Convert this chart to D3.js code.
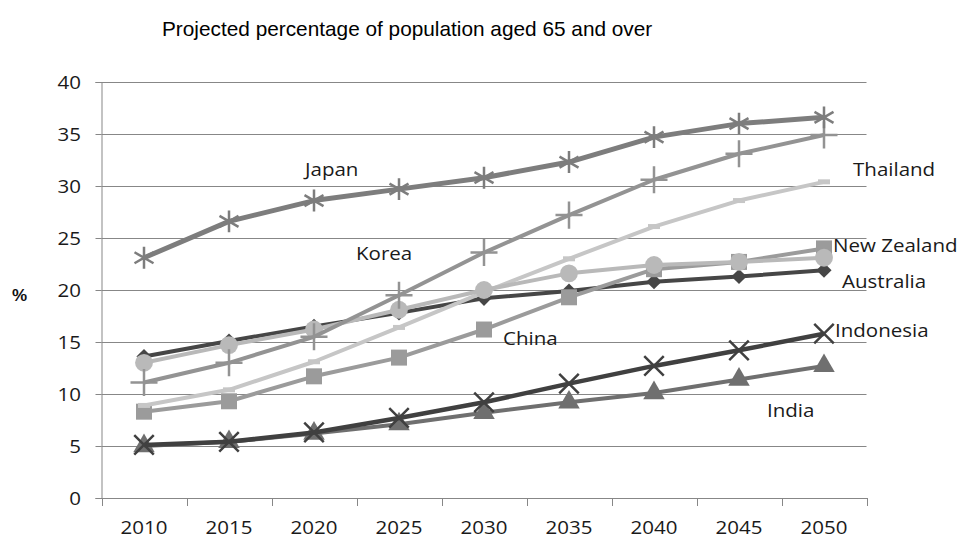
<!DOCTYPE html>
<html>
<head>
<meta charset="utf-8">
<script src="https://cdn.jsdelivr.net/npm/d3@7"></script>
<style>
  html, body { margin: 0; padding: 0; background: #fff; }
  svg { display: block; }
</style>
</head>
<body>
<svg id="chart" width="957" height="541"></svg>
<script>
// Projected share of population aged 65+, by country (percent)
const years = [2010, 2015, 2020, 2025, 2030, 2035, 2040, 2045, 2050];
const yTicks = [0, 5, 10, 15, 20, 25, 30, 35, 40];

const japan     = [23.1, 26.6, 28.6, 29.7, 30.8, 32.3, 34.7, 36.0, 36.6];
const korea     = [11.1, 13.0, 15.5, 19.5, 23.6, 27.2, 30.6, 33.1, 34.9];
const thailand  = [8.9, 10.4, 13.1, 16.4, 19.8, 23.0, 26.1, 28.6, 30.4];
const china     = [8.3, 9.3, 11.7, 13.5, 16.2, 19.3, 22.0, 22.7, 24.0];
const newZealand= [13.0, 14.7, 16.2, 18.1, 20.0, 21.6, 22.4, 22.7, 23.1];
const australia = [13.6, 15.1, 16.5, 17.8, 19.2, 19.9, 20.8, 21.3, 21.9];
const indonesia = [5.1, 5.4, 6.3, 7.7, 9.2, 11.0, 12.7, 14.2, 15.8];
const india     = [5.0, 5.4, 6.2, 7.1, 8.2, 9.2, 10.1, 11.4, 12.7];

const seriesNames = ["India", "Indonesia", "Australia", "China", "Thailand", "New Zealand", "Korea", "Japan"];
const seriesValues = [india, indonesia, australia, china, thailand, newZealand, korea, japan];

const svg = d3.select("#chart");
const plotLeft = 101.5, plotRight = 866.5, plotTop = 82, plotBottom = 498;

const xBand = d3.scaleBand().domain(years).range([plotLeft, plotRight]).padding(0);
const xc = d => xBand(d) + xBand.bandwidth() / 2;
const y = d3.scaleLinear().domain([0, 40]).range([plotBottom, plotTop]);

const labelFont = "'Open Sans', 'Noto Sans', sans-serif";
const textColor = "#1a1a1a";
const axisColor = "#878787";

// Title
svg.append("text")
  .attr("x", 162).attr("y", 36)
  .attr("font-family", "'Liberation Sans', Arial, sans-serif")
  .attr("font-size", 20.8)
  .attr("fill", "#000")
  .text("Projected percentage of population aged 65 and over");

// Horizontal gridlines
svg.append("g")
  .selectAll("line")
  .data(yTicks.filter(t => t > 0))
  .join("line")
  .attr("x1", plotLeft).attr("x2", plotRight)
  .attr("y1", d => Math.round(y(d)) + 0.5).attr("y2", d => Math.round(y(d)) + 0.5)
  .attr("stroke", axisColor).attr("stroke-width", 1);

// Y axis
const yAxis = svg.append("g")
  .attr("transform", `translate(${plotLeft},0)`)
  .call(d3.axisLeft(y).tickValues(yTicks).tickSize(6).tickPadding(13));
yAxis.select(".domain").attr("stroke", axisColor);
yAxis.selectAll(".tick line").attr("stroke", axisColor);
yAxis.selectAll(".tick text")
  .attr("font-family", labelFont).attr("font-size", 19)
  .attr("fill", textColor)
  .attr("transform", "scale(1.08,1)");

// X axis: labels at category centres, tick marks at category edges
const xAxis = svg.append("g")
  .attr("transform", `translate(0,${plotBottom})`)
  .call(d3.axisBottom(xBand).tickSize(0).tickPadding(23));
xAxis.select(".domain").attr("stroke", axisColor);
xAxis.selectAll(".tick text")
  .attr("font-family", labelFont).attr("font-size", 19)
  .attr("fill", textColor)
  .attr("transform", "scale(1.08,1)");
svg.append("g")
  .selectAll("line")
  .data(d3.range(years.length + 1))
  .join("line")
  .attr("x1", i => Math.round(plotLeft + i * xBand.step()) + 0.5)
  .attr("x2", i => Math.round(plotLeft + i * xBand.step()) + 0.5)
  .attr("y1", plotBottom).attr("y2", plotBottom + 8)
  .attr("stroke", axisColor);

// Y axis unit
svg.append("text")
  .attr("x", 12).attr("y", 301)
  .attr("font-family", "'Liberation Sans', Arial, sans-serif")
  .attr("font-weight", "bold")
  .attr("font-size", 17)
  .attr("fill", "#111")
  .text("%");

// Series styles
const styles = {
  "India":       { color: "#6f6f6f", width: 4,   marker: "triangle" },
  "Indonesia":   { color: "#404040", width: 4.5, marker: "times" },
  "Australia":   { color: "#464646", width: 4,   marker: "diamond" },
  "China":       { color: "#9b9b9b", width: 4,   marker: "square" },
  "Thailand":    { color: "#c6c6c6", width: 4,   marker: "dash" },
  "New Zealand": { color: "#b9b9b9", width: 4,   marker: "circle" },
  "Korea":       { color: "#939393", width: 4,   marker: "plus" },
  "Japan":       { color: "#7d7d7d", width: 5,   marker: "asterisk" }
};

const line = d3.line().x((d, i) => xc(years[i])).y(d => y(d));

function markerPath(type) {
  switch (type) {
    case "triangle": return d3.symbol(d3.symbolTriangle, 200)();
    case "square":   return d3.symbol(d3.symbolSquare, 256)();
    case "circle":   return d3.symbol(d3.symbolCircle, 250)();
    case "diamond":  return d3.symbol(d3.symbolSquare, 115)();
    case "dash":     return "M-6,-2.5H6V2.5H-6Z";
    case "plus":     return d3.symbol(d3.symbolPlus || d3.symbolCross, 240)();
    case "times":    return d3.symbol(d3.symbolTimes || d3.symbolX, 250)();
    case "asterisk": return d3.symbol(d3.symbolAsterisk, 340)();
  }
}
const strokeMarkers = new Set(["plus", "times", "asterisk"]);

seriesNames.forEach((name, si) => {
  const st = styles[name];
  const vals = seriesValues[si];
  const g = svg.append("g");
  g.append("path")
    .datum(vals)
    .attr("d", line)
    .attr("fill", "none")
    .attr("stroke", st.color)
    .attr("stroke-width", st.width)
    .attr("stroke-linejoin", "round");
  const path = markerPath(st.marker);
  g.selectAll("path.marker")
    .data(vals)
    .join("path")
    .attr("class", "marker")
    .attr("d", path)
    .attr("transform", (d, i) => `translate(${xc(years[i])},${y(d)})` + (st.marker === "diamond" ? " rotate(45)" : ""))
    .attr("fill", strokeMarkers.has(st.marker) ? "none" : st.color)
    .attr("stroke", strokeMarkers.has(st.marker) ? st.color : "none")
    .attr("stroke-width", strokeMarkers.has(st.marker) ? 2.5 : 0);
});

// Series labels
const labels = [
  { text: "Japan",       x: 305, y: 176 },
  { text: "Korea",       x: 356, y: 260 },
  { text: "Thailand",    x: 853, y: 176 },
  { text: "New Zealand", x: 833, y: 252 },
  { text: "Australia",   x: 842, y: 288 },
  { text: "China",       x: 503, y: 345 },
  { text: "Indonesia",   x: 835, y: 337 },
  { text: "India",       x: 767, y: 417 }
];
svg.append("g")
  .selectAll("text")
  .data(labels)
  .join("text")
  .attr("transform", d => `translate(${d.x},${d.y}) scale(1.08,1)`)
  .attr("font-family", labelFont)
  .attr("font-size", 19)
  .attr("fill", textColor)
  .text(d => d.text);
</script>
</body>
</html>
